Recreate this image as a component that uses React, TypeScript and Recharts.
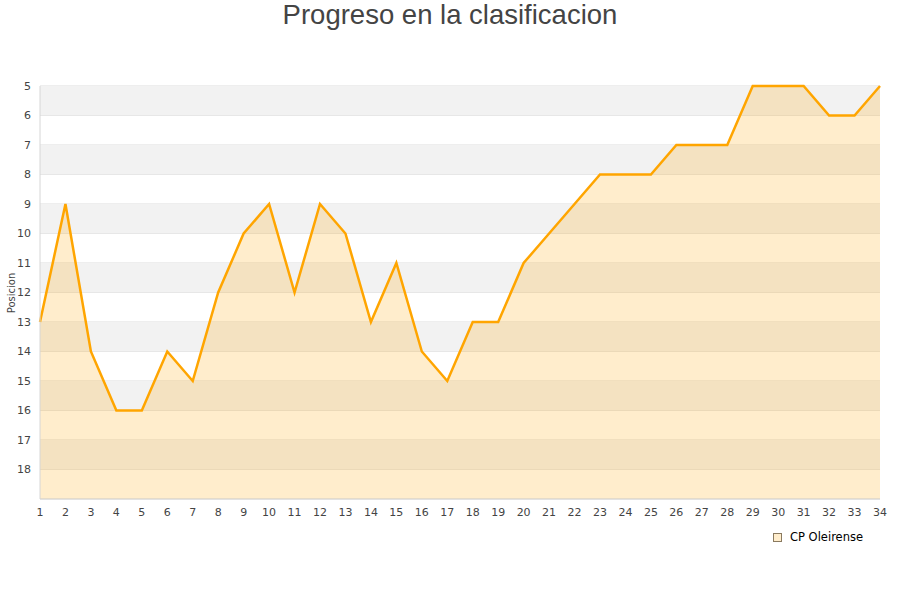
import {
  AreaChart,
  Area,
  XAxis,
  YAxis,
  CartesianGrid,
  ReferenceArea,
  Legend,
} from "recharts";

const jornadas: number[] = [
  1, 2, 3, 4, 5, 6, 7, 8, 9, 10, 11, 12, 13, 14, 15, 16, 17, 18, 19, 20, 21,
  22, 23, 24, 25, 26, 27, 28, 29, 30, 31, 32, 33, 34,
];

const posiciones: number[] = [
  13, 9, 14, 16, 16, 14, 15, 12, 10, 9, 12, 9, 10, 13, 11, 14, 15, 13, 13, 11,
  10, 9, 8, 8, 8, 7, 7, 7, 5, 5, 5, 6, 6, 5,
];

const yTicks: number[] = [5, 6, 7, 8, 9, 10, 11, 12, 13, 14, 15, 16, 17, 18];
const bandStarts: number[] = [5, 7, 9, 11, 13, 15, 17];

const data = jornadas.map((j, i) => ({ jornada: j, pos: posiciones[i] }));

const tickStyle = { fontSize: 11, fill: "#444", fontFamily: "DejaVu Sans" };

const LegendContent = () => (
  <div
    style={{
      display: "flex",
      alignItems: "center",
      fontFamily: "DejaVu Sans",
      fontSize: 11.5,
      color: "#000",
    }}
  >
    <span
      style={{
        display: "inline-block",
        width: 7,
        height: 7,
        background: "#FFEDCC",
        border: "1px solid #8a7a60",
        marginRight: 8,
      }}
    />
    CP Oleirense
  </div>
);

const YLabel = () => (
  <text
    x={15}
    y={293}
    transform="rotate(-90 15 293)"
    textAnchor="middle"
    fontSize={10}
    fill="#444"
    fontFamily="DejaVu Sans"
  >
    Posicion
  </text>
);

export default function App() {
  return (
    <div style={{ position: "absolute", left: 0, top: 0, width: 900, height: 600, background: "#fff" }}>
      <div
        style={{
          position: "absolute",
          top: 0,
          width: 900,
          textAlign: "center",
          fontFamily: "Liberation Sans",
          fontSize: 27.5,
          color: "#444",
          lineHeight: "30px",
        }}
      >
        Progreso en la clasificacion
      </div>
      <AreaChart
        width={900}
        height={600}
        data={data}
        margin={{ top: 86, right: 20, left: 10, bottom: 67 }}
      >
        {bandStarts.map((b) => (
          <ReferenceArea
            key={b}
            y1={b}
            y2={b + 1}
            fill="#F2F2F2"
            fillOpacity={1}
            stroke="none"
            ifOverflow="visible"
          />
        ))}
        <CartesianGrid vertical={false} stroke="#DDDDDD" horizontalValues={[...yTicks, 19]} />
        <XAxis
          dataKey="jornada"
          type="number"
          domain={[1, 34]}
          ticks={jornadas}
          interval={0}
          height={20}
          tick={tickStyle}
          tickLine={false}
          tickSize={0}
          tickMargin={9}
          axisLine={{ stroke: "#D6D6D6" }}
        />
        <YAxis
          yAxisId={0}
          type="number"
          domain={[5, 19]}
          reversed
          ticks={yTicks}
          interval={0}
          width={30}
          tick={tickStyle}
          tickLine={false}
          tickSize={0}
          tickMargin={9}
          axisLine={{ stroke: "#D6D6D6" }}
          label={{ content: <YLabel /> }}
        />
        <YAxis
          yAxisId="right"
          orientation="right"
          domain={[5, 19]}
          width={0}
          tick={false}
          tickLine={false}
          axisLine={{ stroke: "#D6D6D6" }}
        />
        <Area
          type="linear"
          dataKey="pos"
          stroke="#FFA500"
          strokeWidth={2.5}
          fill="#FFA500"
          fillOpacity={0.2}
          baseValue={19}
          dot={false}
          activeDot={false}
          isAnimationActive={false}
        />
        <Legend
          content={<LegendContent />}
          wrapperStyle={{ position: "absolute", left: 773, top: 530, width: 125 }}
        />
      </AreaChart>
    </div>
  );
}
